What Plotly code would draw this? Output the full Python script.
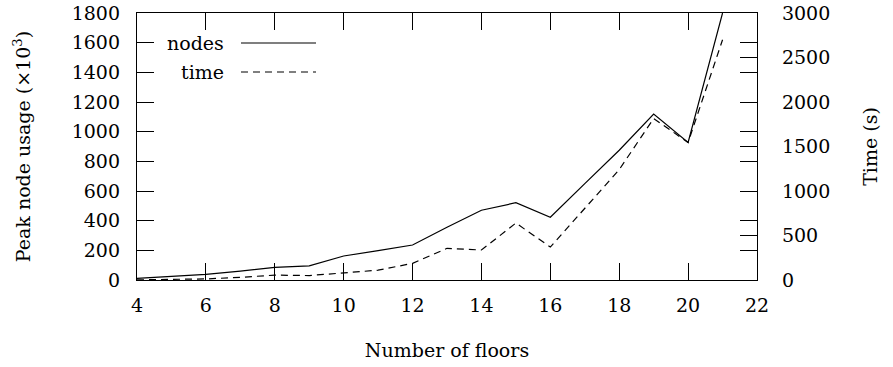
import plotly.graph_objects as go

floors = [4, 5, 6, 7, 8, 9, 10, 11, 12, 13, 14, 15, 16, 17, 18, 19, 20, 21]
nodes_k = [11, 25, 38, 60, 85, 95, 162, 198, 236, 355, 470, 521, 423, 650, 875, 1119, 928, 1800]
time_s = [2, 5, 12, 30, 55, 50, 80, 110, 187, 356, 337, 640, 370, 800, 1240, 1815, 1545, 2700]

FONT = "DejaVu Serif"
L, R, T, B = 137, 136, 13, 87
W, H = 893, 367
PW, PH = W - L - R, H - T - B

fig = go.Figure()
fig.add_trace(go.Scatter(x=floors, y=nodes_k, mode="lines", name="nodes",
                         line=dict(color="black", width=1.2), showlegend=False))
fig.add_trace(go.Scatter(x=floors, y=time_s, mode="lines", name="time", yaxis="y2",
                         line=dict(color="black", width=1.2, dash="7px,5px"), showlegend=False))

tf = dict(family=FONT, size=19, color="black")
axis_common = dict(showgrid=False, zeroline=False, showline=True, linecolor="black", linewidth=1.3,
                   ticks="inside", ticklen=17, tickwidth=1, tickcolor="black", tickfont=tf)

fig.update_layout(
    width=W, height=H,
    margin=dict(l=L, r=R, t=T, b=B, autoexpand=False),
    paper_bgcolor="white", plot_bgcolor="white",
    font=tf,
    xaxis=dict(range=[4, 22], dtick=2, tick0=4, mirror="ticks", ticklabelstandoff=8,
               title=dict(text="Number of floors", font=tf, standoff=28),
               **axis_common),
    yaxis=dict(range=[0, 1800], dtick=200, tick0=0, mirror="ticks", ticklabelstandoff=12,
               title=dict(text="Peak node usage (×10<sup>3</sup>)", font=tf, standoff=36),
               **axis_common),
    yaxis2=dict(range=[0, 3000], dtick=500, tick0=0, overlaying="y", side="right", ticklabelstandoff=20,
                title=dict(text="Time (s)", font=tf, standoff=34),
                **axis_common),
)

def px(x):
    return (x - L) / PW

def py(y):
    return (T + PH - y) / PH

for label, yc, dash in [("nodes", 43, "solid"), ("time", 72, "7px,5px")]:
    fig.add_annotation(x=px(226), y=py(yc), xref="paper", yref="paper", text=label,
                       showarrow=False, xanchor="right", yanchor="middle", font=tf)
    fig.add_shape(type="line", xref="paper", yref="paper", x0=px(241), x1=px(316),
                  y0=py(yc), y1=py(yc), line=dict(color="black", width=1.2, dash=dash))

fig.write_html("out.html")
